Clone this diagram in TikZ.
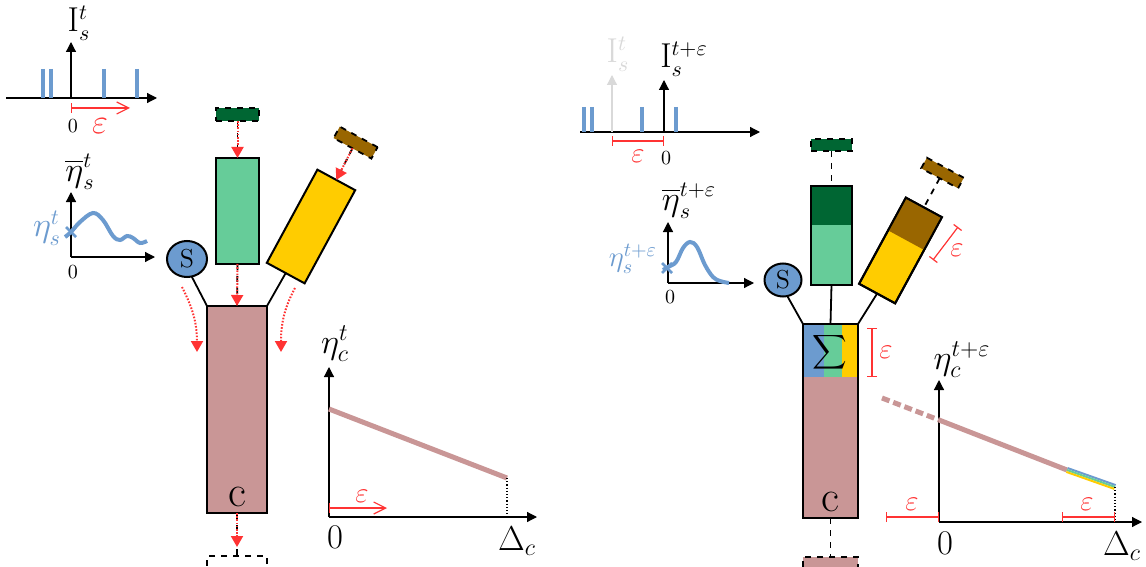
\documentclass[tikz,border=0pt]{standalone}
\usepackage{amsmath}
\usetikzlibrary{arrows.meta,calc,shapes.geometric}
\definecolor{sblue}{RGB}{108,155,207}
\definecolor{lgreen}{RGB}{102,204,153}
\definecolor{dgreen}{RGB}{0,102,51}
\definecolor{syellow}{RGB}{255,204,0}
\definecolor{sbrown}{RGB}{153,102,0}
\definecolor{cpink}{RGB}{201,150,150}
\definecolor{ered}{RGB}{255,51,51}
\begin{document}
\begin{tikzpicture}[x=0.5pt,y=-0.5pt,
  stbox/.style={draw, line width=1pt, inner sep=0pt, outer sep=0pt},
  tabbox/.style={draw, dashed, line width=0.9pt, inner sep=0pt, outer sep=0pt},
  sbubble/.style={draw, ellipse, fill=sblue, line width=1pt, inner sep=0pt, outer sep=0pt, minimum width=20pt, minimum height=18pt, font=\fontsize{13}{15}\selectfont},
  link/.style={line width=0.9pt},
  blackdash/.style={dashed, line width=0.9pt},
  redflow/.style={ered, line width=1pt, dash pattern=on 0.8pt off 0.8pt, -{Triangle[length=5.5pt,width=6pt]}},
  axis/.style={line width=0.6pt, -{Triangle[length=5pt,width=5pt]}},
  gaxis/.style={axis, black!15},
  barr/.style={ered, line width=0.6pt, {Bar[width=5pt]}-{Straight Barb[length=6pt,width=6pt]}},
  interval/.style={ered, line width=0.6pt, {Bar[width=5pt]}-{Bar[width=5pt]}},
  spike/.style={sblue, line width=2pt},
  bcurve/.style={sblue, line width=2pt},
  lbl/.style={font=\fontsize{16}{18}\selectfont, inner sep=0pt},
  blbl/.style={font=\LARGE, inner sep=0pt},
  elbl/.style={font=\Large, text=ered, inner sep=0pt},
  zlbl/.style={inner sep=0pt}
]
\useasboundingbox (0,0) rectangle (1146,567);

%%%%%%%%%%%%%%%% LEFT %%%%%%%%%%%%%%%%
% spike train graph
\draw[axis] (6,98) -- (157,98);
\draw[axis] (71,98) -- (71,42);
\node[lbl] (il) at (79,23) {$\mathrm{I}_s^t$};
\foreach \xx in {43,51,104,137} \draw[spike] (\xx,69) -- (\xx,98);
\draw[barr] (71,108) -- (130,108);
\node[zlbl] (z1) at (73,126) {0};
\node[elbl, font=\LARGE] (e1) at (100,126) {$\varepsilon$};

% eta bar graph
\draw[axis] (71,257) -- (71,192);
\draw[axis] (71,257) -- (155,257);
\node[lbl] (ebl) at (80,172) {$\overline{\eta}_s^t$};
\node[zlbl] (z2) at (73,272) {0};
\draw[bcurve] plot[smooth, tension=0.6] coordinates {(65,237) (71,232) (80,222) (93,213) (103,220) (113,236) (120,240) (127,236) (133,238) (140,243) (147,241)};
\draw[sblue, line width=1.4pt] (66,227) -- (76,237) (66,237) -- (76,227);
\node[lbl, text=sblue] (esl) at (47,228) {$\eta_s^t$};

% blocks
\node[stbox, fill=lgreen, minimum width=21.5pt, minimum height=53pt] (g1) at (237.5,211) {};
\node[tabbox, fill=dgreen, minimum width=21.5pt, minimum height=6.5pt] (dg1) at (237.5,114.5) {};
\node[stbox, fill=syellow, rotate=-28.5, minimum width=21.5pt, minimum height=53pt] (y1) at (311,226.5) {};
\node[tabbox, fill=sbrown, rotate=-28.5, minimum width=21.5pt, minimum height=6.5pt] (br1) at (355.6,142.6) {};
\node[sbubble] (s1) at (187,259) {S};
\node[stbox, fill=cpink, minimum width=30pt, minimum height=103.5pt] (c1) at (237,409.5) {};
\node[font=\fontsize{22}{24}\selectfont, inner sep=0pt] (c1l) at (237,497) {c};
\node[tabbox, fill=white, minimum width=30pt, minimum height=34pt] (d1) at (237,590) {};

\draw[link] (s1.-75) -- (c1.north west);
\draw[link] (y1.south) -- (c1.north east);
\draw[blackdash] (dg1.south) -- (g1.north);
\draw[redflow] (dg1.south) -- (g1.north);
\draw[blackdash] (br1.south) -- (y1.north);
\draw[redflow] (br1.south) -- (y1.north);
\draw[blackdash] (g1.south) -- (c1.north);
\draw[redflow] (g1.south) -- (c1.north);
\draw[blackdash] (c1.south) -- (d1.north);
\draw[redflow, shorten >=4.5pt] (c1.south) -- (d1.north);
\draw[redflow] (182,287) .. controls (191,305) and (197,320) .. (197,352);
\draw[redflow] (295,288) .. controls (286,305) and (281,320) .. (281,352);

% eta_c graph
\draw[axis] (329,517) -- (329,367);
\draw[axis] (329,517) -- (537,517);
\node[blbl] (ecl) at (335,344) {$\eta_c^t$};
\draw[cpink, line width=2.5pt] (329,409) -- (507,478);
\draw[densely dotted, line width=0.6pt] (507,478) -- (507,517);
\node[blbl] (z3) at (335,537) {0};
\node[blbl] (dl1) at (517,541) {$\Delta_c$};
\draw[barr] (329,508) -- (387,508);
\node[elbl] (e2) at (362,496) {$\varepsilon$};

%%%%%%%%%%%%%%%% RIGHT %%%%%%%%%%%%%%%%
% spike train graph
\draw[axis] (580,132) -- (760,132);
\draw[gaxis] (612,132) -- (612,75);
\node[lbl, text=black!15] (igl) at (618,54) {$\mathrm{I}_s^t$};
\draw[axis] (664,132) -- (664,80);
\node[lbl] (ir) at (684,59) {$\mathrm{I}_s^{t+\varepsilon}$};
\foreach \xx in {584,592,642,676} \draw[spike] (\xx,107) -- (\xx,132);
\draw[interval] (612,141) -- (664,141);
\node[elbl] (e3) at (638,156) {$\varepsilon$};
\node[zlbl] (z4) at (666,158) {0};

% eta bar graph
\draw[axis] (668,283) -- (668,222);
\draw[axis] (668,283) -- (754,283);
\node[lbl] (ebr) at (689,201) {$\overline{\eta}_s^{t+\varepsilon}$};
\node[zlbl] (z5) at (670,297) {0};
\draw[bcurve] plot[smooth, tension=0.6] coordinates {(663,270) (668,267) (676,262) (683,248) (690,242) (697,247) (705,265) (713,277) (720,281) (729,283)};
\draw[sblue, line width=1.4pt] (662,263) -- (672,273) (662,273) -- (672,263);
\node[font=\Large, inner sep=0pt, text=sblue] (esr) at (633,259) {$\eta_s^{t+\varepsilon}$};

% blocks
\node[stbox, fill=lgreen, minimum width=20.5pt, minimum height=49.5pt] (g2) at (831.5,235.5) {};
\fill[dgreen] (g2.north west) rectangle ($(g2.north east)!0.394!(g2.south east)$);
\draw[line width=1pt] (g2.north west) rectangle (g2.south east);
\node[tabbox, fill=dgreen, minimum width=20.5pt, minimum height=6pt] (dg2) at (831.5,145) {};
\node[stbox, fill=syellow, rotate=-28.5, minimum width=20.5pt, minimum height=49pt] (y2) at (900.5,250.5) {};
\fill[sbrown] (y2.north west) -- (y2.north east) -- ($(y2.north east)!0.38!(y2.south east)$) -- ($(y2.north west)!0.38!(y2.south west)$) -- cycle;
\draw[line width=1pt] (y2.north west) -- (y2.north east) -- (y2.south east) -- (y2.south west) -- cycle;
\node[tabbox, fill=sbrown, rotate=-28.5, minimum width=21pt, minimum height=6pt] (br2) at (942.5,173) {};
\node[sbubble, minimum width=18.5pt, minimum height=16.5pt] (s2) at (783,280) {S};
\node[stbox, fill=cpink, minimum width=27.5pt, minimum height=97pt] (c2) at (830.5,421) {};
\fill[sblue] (803,324) rectangle (824,377);
\fill[lgreen] (824,324) rectangle (842,377);
\fill[syellow] (842,324) rectangle (858,377);
\draw[line width=1pt] (c2.north west) rectangle (c2.south east);
\node[inner sep=0pt, font=\fontsize{13}{15}\selectfont] (sig) at (830,352) {$\displaystyle\sum$};
\node[font=\fontsize{22}{24}\selectfont, inner sep=0pt] (c2l) at (830,502) {c};
\node[tabbox, fill=cpink, minimum width=27.5pt, minimum height=33pt] (pk2) at (830.5,590) {};

\draw[link] (s2.-75) -- (c2.north west);
\draw[link] (g2.south) -- (c2.north);
\draw[link] (y2.south) -- (c2.north east);
\draw[blackdash] (dg2.south) -- (g2.north);
\draw[blackdash] (br2.south) -- (y2.north);
\draw[blackdash] (c2.south) -- (pk2.north);

\draw[interval] (958,227) -- (933,260);
\node[elbl] (e4) at (957,250) {$\varepsilon$};
\draw[interval] (872,328) -- (872,377);
\node[elbl] (e5) at (886,352) {$\varepsilon$};

% eta_c graph
\draw[axis] (939,522) -- (939,380);
\draw[axis] (939,522) -- (1142,522);
\node[blbl] (ecr) at (962,360) {$\eta_c^{t+\varepsilon}$};
\draw[cpink, line width=2.5pt, dash pattern=on 4pt off 2pt] (882,398) -- (939,420);
\draw[cpink, line width=2.5pt] (939,420) -- (1067,470);
\draw[sblue, line width=1pt] (1067.7,468.1) -- (1115.7,485.1);
\draw[lgreen, line width=1pt] (1067,470) -- (1115,487);
\draw[syellow, line width=1pt] (1066.3,471.9) -- (1114.3,488.9);
\draw[densely dotted, line width=0.6pt] (1115,487) -- (1115,522);
\draw[interval] (886,517) -- (939,517);
\draw[interval] (1062,517) -- (1115,517);
\node[elbl] (e6) at (912,504) {$\varepsilon$};
\node[elbl] (e7) at (1087,504) {$\varepsilon$};
\node[blbl] (z6) at (945,543) {0};
\node[blbl] (dl2) at (1122,546) {$\Delta_c$};
\end{tikzpicture}
\end{document}
